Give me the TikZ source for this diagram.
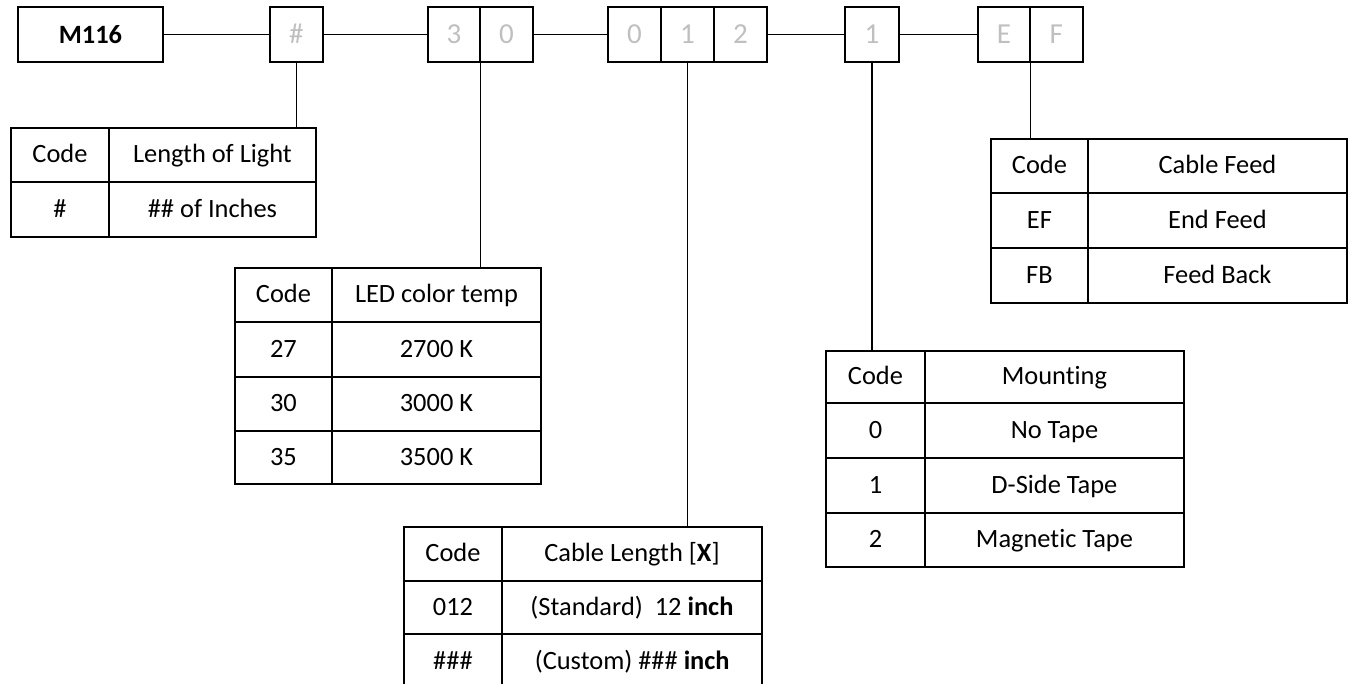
\documentclass[tikz,border=0pt]{standalone}
\usepackage{fontspec}
\setmainfont{Carlito}[Ligatures=NoCommon]
\definecolor{digitgray}{RGB}{191,191,191}
\begin{document}
\begin{tikzpicture}[x=1pt,y=-1pt,
  box/.style={draw, line width=1.8pt, inner sep=0pt, anchor=north west, minimum height=55pt, text height=19pt, text depth=1pt},
  digit/.style={box, minimum width=53pt, text=digitgray, font=\fontsize{29}{31}\selectfont},
  cell/.style={draw, line width=1.9pt, inner sep=0pt, anchor=north west, text height=18pt, text depth=2pt, font=\fontsize{26.4}{29}\selectfont},
  cc/.style={cell, minimum width=98pt},
  wire/.style={line width=1.3pt}]
\useasboundingbox (0,0) rectangle (1353,684);
% top row
\node[box, minimum width=145pt, font=\fontsize{26.4}{29}\selectfont\bfseries] (m116) at (17,6) {M116};
\node[digit] (hash) at (269,6) {\#};
\node[digit, minimum width=52pt] (t3) at (427,6) {3};
\node[digit] (t0) at (479,6) {0};
\node[digit] (d0) at (607,6) {0};
\node[digit] (d1) at (660,6) {1};
\node[digit] (d2) at (713,6) {2};
\node[digit, minimum width=54pt] (mt) at (844,6) {1};
\node[digit, minimum width=52pt] (fe) at (977,6) {E};
\node[digit] (ff) at (1029,6) {F};
% length table
\node[cc, minimum height=54pt] (Lh1) at (10,127) {Code};
\node[cell, minimum width=207pt, minimum height=54pt] (Lh2) at (108,127) {Length of Light};
\node[cc, minimum height=55pt] (Lr1) at (10,181) {\#};
\node[cell, minimum width=207pt, minimum height=55pt] (Lr2) at (108,181) {\#\# of Inches};
% LED table
\node[cell, minimum width=97pt, minimum height=54pt] (Th1) at (234,267) {Code};
\node[cell, minimum width=209pt, minimum height=54pt] (Th2) at (331,267) {LED color temp};
\node[cell, minimum width=97pt, minimum height=55pt] (T11) at (234,321) {27};
\node[cell, minimum width=209pt, minimum height=55pt] (T12) at (331,321) {2700 K};
\node[cell, minimum width=97pt, minimum height=54pt] (T21) at (234,376) {30};
\node[cell, minimum width=209pt, minimum height=54pt] (T22) at (331,376) {3000 K};
\node[cell, minimum width=97pt, minimum height=53pt] (T31) at (234,430) {35};
\node[cell, minimum width=209pt, minimum height=53pt] (T32) at (331,430) {3500 K};
% cable length table
\node[cc, minimum height=54pt] (Ch1) at (403,526) {Code};
\node[cell, minimum width=260pt, minimum height=54pt] (Ch2) at (501,526) {Cable Length [\textbf{X}]};
\node[cc, minimum height=53pt] (C11) at (403,580) {012};
\node[cell, minimum width=260pt, minimum height=53pt] (C12) at (501,580) {(Standard)\ \ 12 \textbf{inch}};
\node[cc, minimum height=55pt] (C21) at (403,633) {\#\#\#};
\node[cell, minimum width=260pt, minimum height=55pt, line width=2.4pt] (C22) at (501,633) {(Custom) \#\#\# \textbf{inch}};
% mounting table
\node[cell, minimum width=99pt, minimum height=52pt] (Mh1) at (825,350) {Code};
\node[cell, minimum width=259pt, minimum height=52pt] (Mh2) at (924,350) {Mounting};
\node[cell, minimum width=99pt, minimum height=55pt] (M11) at (825,402) {0};
\node[cell, minimum width=259pt, minimum height=55pt] (M12) at (924,402) {No Tape};
\node[cell, minimum width=99pt, minimum height=55pt] (M21) at (825,457) {1};
\node[cell, minimum width=259pt, minimum height=55pt] (M22) at (924,457) {D-Side Tape};
\node[cell, minimum width=99pt, minimum height=54pt] (M31) at (825,512) {2};
\node[cell, minimum width=259pt, minimum height=54pt] (M32) at (924,512) {Magnetic Tape};
% cable feed table
\node[cell, minimum width=97pt, minimum height=54pt] (Fh1) at (990,138) {Code};
\node[cell, minimum width=259pt, minimum height=54pt] (Fh2) at (1087,138) {Cable Feed};
\node[cell, minimum width=97pt, minimum height=55pt] (F11) at (990,192) {EF};
\node[cell, minimum width=259pt, minimum height=55pt] (F12) at (1087,192) {End Feed};
\node[cell, minimum width=97pt, minimum height=55pt] (F21) at (990,247) {FB};
\node[cell, minimum width=259pt, minimum height=55pt] (F22) at (1087,247) {Feed Back};
% connectors
\draw[wire] (m116.east) -- (hash.west);
\draw[wire] (hash.east) -- (t3.west);
\draw[wire] (t0.east) -- (d0.west);
\draw[wire] (d2.east) -- (mt.west);
\draw[wire] (mt.east) -- (fe.west);
\draw[wire] (hash.south) -- (hash.south |- Lh2.north);
\draw[wire] (t3.south east) -- (t3.south east |- Th2.north);
\draw[wire] (d1.south) -- (d1.south |- Ch2.north);
\draw[wire] (mt.south) -- (mt.south |- Mh1.north);
\draw[wire] (fe.south east) -- (fe.south east |- Fh1.north);
\end{tikzpicture}
\end{document}
